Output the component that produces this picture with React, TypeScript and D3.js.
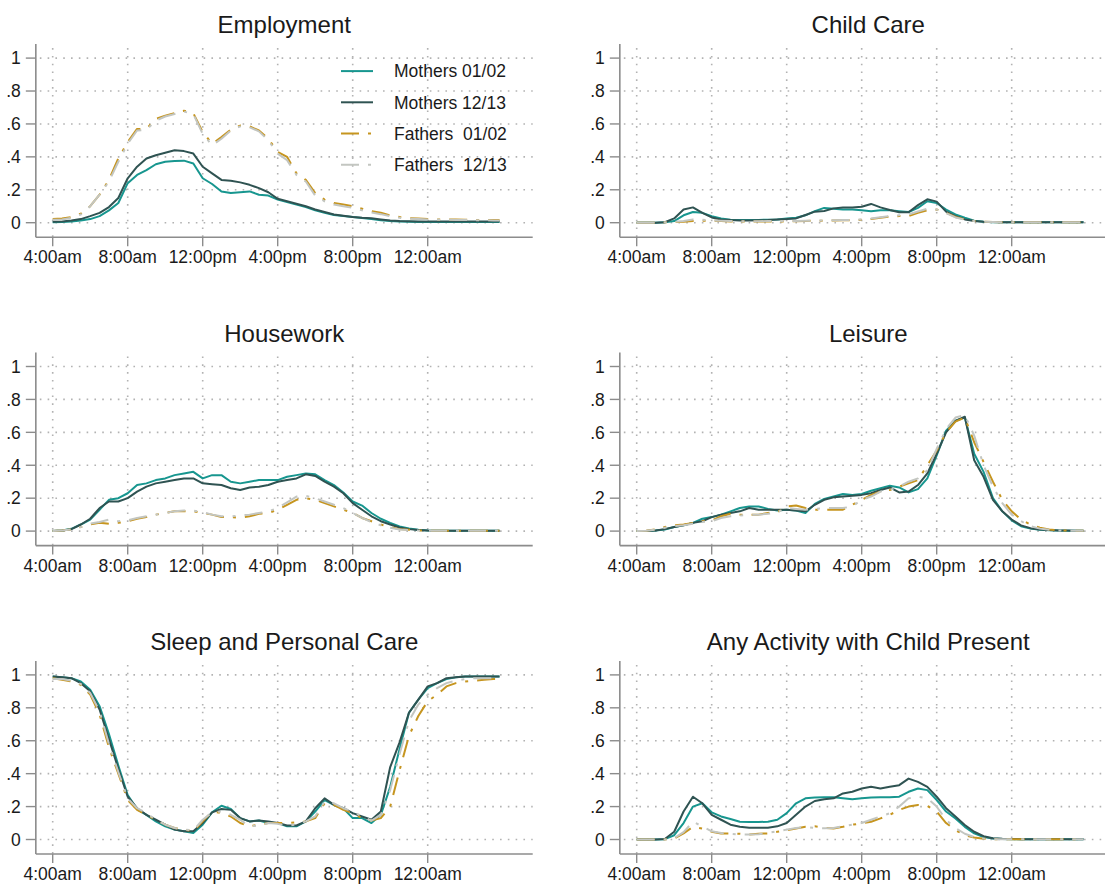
import * as d3 from 'd3';

// hours after 4:00am, half-hour slots (last slot = 3:50am)
const slots = [
  0, 0.5, 1, 1.5, 2, 2.5, 3, 3.5,
  4, 4.5, 5, 5.5, 6, 6.5, 7, 7.5,
  8, 8.5, 9, 9.5, 10, 10.5, 11, 11.5,
  12, 12.5, 13, 13.5, 14, 14.5, 15, 15.5,
  16, 16.5, 17, 17.5, 18, 18.5, 19, 19.5,
  20, 20.5, 21, 21.5, 22, 22.5, 23, 23.5, 23.83,
];
const tickHours = [0, 4, 8, 12, 16, 20];
const tickLabels = ['4:00am', '8:00am', '12:00pm', '4:00pm', '8:00pm', '12:00am'];
const yTicks = [0, 0.2, 0.4, 0.6, 0.8, 1];
const yTickLabels = ['0', '.2', '.4', '.6', '.8', '1'];
const seriesNames = ['Mothers 01/02', 'Mothers 12/13', 'Fathers  01/02', 'Fathers  12/13'];
const panelTitles = [
  'Employment', 'Child Care', 'Housework', 'Leisure',
  'Sleep and Personal Care', 'Any Activity with Child Present',
];

// Employment
const empM01 = [
  .003, .004, .008, .013, .022, .04, .075, .12,
  .24, .29, .32, .355, .37, .375, .377, .36,
  .27, .235, .19, .18, .185, .19, .17, .165,
  .14, .125, .11, .095, .075, .06, .047, .04,
  .034, .028, .022, .015, .01, .008, .006, .005,
  .004, .004, .004, .004, .004, .004, .004, .004, .004,
];
const empM12 = [
  .006, .008, .013, .022, .04, .06, .095, .15,
  .27, .34, .39, .41, .425, .44, .435, .42,
  .34, .30, .26, .255, .245, .23, .21, .185,
  .145, .13, .115, .10, .08, .065, .05, .042,
  .035, .03, .027, .02, .014, .01, .009, .008,
  .007, .007, .007, .007, .007, .007, .007, .007, .007,
];
const empF01 = [
  .022, .025, .034, .055, .10, .17, .26, .39,
  .49, .57, .57, .63, .65, .665, .68, .665,
  .55, .48, .52, .565, .59, .585, .56, .51,
  .43, .40, .30, .26, .18, .14, .12, .11,
  .10, .085, .07, .06, .045, .035, .028, .025,
  .022, .02, .02, .02, .018, .017, .017, .016, .016,
];
const empF12 = [
  .018, .02, .03, .05, .10, .17, .25, .37,
  .48, .56, .565, .62, .645, .66, .675, .66,
  .54, .47, .51, .56, .585, .58, .555, .50,
  .42, .38, .29, .25, .165, .13, .11, .10,
  .09, .075, .062, .052, .04, .03, .025, .022,
  .02, .018, .018, .017, .016, .015, .015, .014, .014,
];

// Child Care
const ccM01 = [
  0, 0, 0, .002, .01, .045, .065, .06,
  .04, .025, .018, .017, .017, .017, .018, .02,
  .025, .03, .045, .07, .09, .085, .08, .08,
  .075, .07, .075, .075, .07, .065, .09, .13,
  .12, .08, .05, .03, .012, .006, .003, .002,
  .002, .002, .002, .002, .002, .002, .002, .002, .002,
];
const ccM12 = [
  0, 0, 0, .003, .026, .08, .093, .06,
  .032, .02, .016, .014, .014, .015, .016, .02,
  .022, .026, .047, .067, .071, .087, .093, .093,
  .097, .114, .093, .077, .063, .063, .107, .142,
  .128, .067, .04, .02, .01, .006, .004, .003,
  .003, .003, .002, .002, .002, .002, .002, .002, .002,
];
const ccF01 = [
  0, 0, 0, .002, .004, .006, .01, .012,
  .012, .01, .008, .008, .008, .008, .008, .008,
  .008, .009, .01, .012, .012, .014, .015, .015,
  .018, .022, .03, .038, .04, .04, .06, .075,
  .08, .06, .035, .02, .01, .006, .004, .003,
  .002, .002, .002, .002, .002, .002, .002, .002, .002,
];
const ccF12 = [
  0, 0, 0, .002, .005, .01, .02, .018,
  .015, .012, .01, .009, .009, .009, .01, .01,
  .01, .01, .012, .013, .014, .015, .016, .017,
  .02, .025, .033, .04, .045, .05, .068, .085,
  .08, .058, .032, .018, .01, .006, .004, .003,
  .002, .002, .002, .002, .002, .002, .002, .002, .002,
];

// Housework
const hwM01 = [
  0, .004, .014, .04, .07, .13, .19, .20,
  .23, .28, .29, .31, .32, .34, .35, .36,
  .32, .34, .34, .30, .29, .30, .31, .31,
  .31, .33, .34, .35, .345, .31, .28, .235,
  .18, .155, .11, .075, .05, .028, .016, .008,
  .004, .002, .002, .002, .002, .002, .002, .002, .002,
];
const hwM12 = [
  0, .003, .012, .04, .075, .14, .18, .18,
  .20, .24, .27, .29, .30, .31, .32, .32,
  .29, .285, .28, .26, .25, .265, .27, .28,
  .30, .31, .32, .345, .335, .30, .27, .23,
  .17, .13, .09, .06, .04, .022, .012, .006,
  .003, .002, .002, .002, .002, .002, .002, .002, .002,
];
const hwF01 = [
  0, .004, .01, .025, .04, .05, .045, .05,
  .06, .075, .085, .10, .11, .12, .12, .12,
  .11, .10, .085, .085, .08, .09, .105, .11,
  .13, .16, .19, .20, .19, .17, .15, .13,
  .11, .08, .06, .04, .025, .012, .008, .004,
  .002, .002, .002, .002, .002, .002, .002, .002, .002,
];
const hwF12 = [
  0, .004, .01, .025, .045, .055, .07, .06,
  .065, .08, .09, .10, .11, .12, .125, .125,
  .115, .10, .09, .09, .095, .10, .11, .12,
  .14, .175, .21, .215, .20, .18, .16, .14,
  .11, .08, .055, .035, .02, .01, .006, .003,
  .002, .002, .002, .002, .002, .002, .002, .002, .002,
];

// Leisure
const lsM01 = [
  0, 0, .003, .01, .025, .035, .05, .075,
  .085, .10, .12, .14, .15, .15, .135, .125,
  .13, .125, .11, .165, .195, .21, .225, .22,
  .225, .245, .26, .275, .265, .235, .255, .32,
  .46, .61, .67, .69, .47, .36, .20, .12,
  .065, .03, .015, .008, .005, .003, .002, .002, .002,
];
const lsM12 = [
  0, 0, .003, .012, .025, .035, .05, .06,
  .085, .10, .11, .12, .14, .13, .13, .13,
  .13, .125, .12, .16, .19, .205, .21, .215,
  .22, .23, .25, .265, .235, .24, .28, .35,
  .47, .60, .67, .695, .43, .33, .19, .12,
  .07, .035, .018, .01, .006, .004, .003, .002, .002,
];
const lsF01 = [
  0, .002, .01, .025, .035, .04, .05, .06,
  .065, .09, .105, .10, .10, .10, .11, .115,
  .15, .155, .14, .13, .13, .13, .13, .16,
  .19, .22, .24, .25, .27, .29, .31, .40,
  .49, .60, .665, .69, .54, .42, .30, .19,
  .12, .07, .04, .02, .01, .005, .003, .002, .002,
];
const lsF12 = [
  0, .002, .008, .02, .03, .035, .045, .055,
  .06, .08, .09, .095, .10, .10, .105, .115,
  .14, .135, .13, .135, .14, .14, .14, .15,
  .19, .21, .24, .25, .27, .30, .32, .37,
  .50, .62, .69, .705, .58, .40, .27, .17,
  .10, .06, .03, .015, .008, .004, .003, .002, .002,
];

// Sleep and Personal Care
const spM01 = [
  .99, .985, .98, .96, .91, .81, .64, .45,
  .27, .185, .15, .11, .08, .06, .05, .04,
  .09, .165, .205, .185, .13, .11, .115, .10,
  .10, .08, .08, .11, .17, .24, .21, .19,
  .13, .13, .10, .15, .32, .55, .77, .85,
  .92, .95, .975, .985, .99, .99, .99, .99, .99,
];
const spM12 = [
  .99, .985, .98, .95, .90, .79, .61, .43,
  .26, .19, .15, .12, .09, .06, .05, .05,
  .10, .165, .185, .18, .13, .11, .115, .11,
  .10, .085, .085, .11, .19, .25, .21, .19,
  .16, .14, .12, .17, .44, .59, .77, .85,
  .93, .95, .98, .985, .99, .99, .99, .99, .99,
];
const spF01 = [
  .98, .97, .96, .94, .88, .76, .56, .40,
  .24, .18, .15, .12, .09, .07, .06, .05,
  .11, .17, .16, .14, .10, .08, .09, .10,
  .10, .10, .105, .11, .13, .22, .21, .18,
  .16, .13, .115, .13, .20, .42, .63, .75,
  .84, .88, .93, .95, .96, .965, .97, .975, .975,
];
const spF12 = [
  .975, .975, .965, .945, .89, .78, .58, .41,
  .25, .19, .16, .12, .09, .07, .06, .055,
  .12, .165, .17, .15, .12, .08, .085, .10,
  .095, .085, .09, .11, .14, .23, .22, .19,
  .17, .14, .115, .15, .30, .52, .72, .82,
  .88, .92, .95, .965, .975, .98, .98, .98, .98,
];

// Any Activity with Child Present
const acM01 = [
  0, 0, 0, .002, .026, .10, .20, .22,
  .165, .14, .125, .108, .106, .106, .108, .12,
  .16, .22, .25, .255, .257, .257, .25, .244,
  .25, .255, .257, .257, .26, .29, .31, .30,
  .24, .17, .128, .077, .037, .015, .006, .003,
  .002, .002, .002, .002, .002, .002, .002, .002, .002,
];
const acM12 = [
  0, 0, 0, .003, .047, .17, .26, .22,
  .15, .12, .09, .077, .072, .071, .072, .08,
  .10, .15, .20, .234, .245, .25, .28, .29,
  .31, .32, .31, .32, .33, .37, .35, .32,
  .26, .19, .14, .088, .047, .02, .008, .004,
  .003, .002, .002, .002, .002, .002, .002, .002, .002,
];
const acF01 = [
  0, 0, 0, 0, .005, .037, .077, .067,
  .047, .037, .037, .035, .03, .035, .037, .047,
  .057, .067, .077, .08, .071, .067, .077, .09,
  .098, .108, .128, .15, .18, .20, .21, .204,
  .17, .10, .057, .026, .012, .005, .002, .002,
  .002, .002, .002, .002, .002, .002, .002, .002, .002,
];
const acF12 = [
  0, 0, 0, 0, .008, .045, .108, .08,
  .05, .04, .035, .03, .03, .032, .04, .05,
  .06, .07, .075, .07, .068, .07, .08, .09,
  .10, .12, .14, .16, .20, .25, .26, .25,
  .20, .12, .07, .035, .015, .006, .002, .002,
  .002, .002, .002, .002, .002, .002, .002, .002, .002,
];

const panelData = [
  [empM01, empM12, empF01, empF12],
  [ccM01, ccM12, ccF01, ccF12],
  [hwM01, hwM12, hwF01, hwF12],
  [lsM01, lsM12, lsF01, lsF12],
  [spM01, spM12, spF01, spF12],
  [acM01, acM12, acF01, acF12],
];

const styles = [
  { color: '#17968f', dash: undefined as string | undefined },
  { color: '#2f5352', dash: undefined },
  { color: '#c6951f', dash: '18 9 3 9' },
  { color: '#c3c6c1', dash: '18 9 3 9' },
];

const font = '"Liberation Sans", Arial, Helvetica, sans-serif';
const textColor = '#1a1a1a';
const axisColor = '#8c8c8c';
const gridColor = '#b2b2b2';

function Panel({ index }: { index: number }) {
  const col = index % 2;
  const row = Math.floor(index / 2);
  const x0 = 52.7 + col * 584; // 4:00am
  const y0 = 222.7 + row * 308.4; // value 0
  const x = d3.scaleLinear().domain([0, 24]).range([x0, x0 + 450]);
  const y = d3.scaleLinear().domain([0, 1]).range([y0, y0 - 164.6]);
  const left = x(-0.9);
  const right = x(25.6);
  const bottom = y(-0.088);
  const top = y(1.085);
  const line = d3
    .line<number>()
    .x((_, i) => x(slots[i]))
    .y((d) => y(d));

  return (
    <g>
      <text
        x={(left + right) / 2}
        y={y(1) - 25}
        textAnchor="middle"
        fontSize={24}
        fill={textColor}
      >
        {panelTitles[index]}
      </text>
      {/* grid */}
      {yTicks.map((t) => (
        <line key={'h' + t} x1={left + 4} x2={right} y1={y(t)} y2={y(t)}
          stroke={gridColor} strokeWidth={1.6} strokeDasharray="1.6 6.2" />
      ))}
      {tickHours.map((t) => (
        <line key={'v' + t} x1={x(t)} x2={x(t)} y1={top + 4} y2={bottom}
          stroke={gridColor} strokeWidth={1.6} strokeDasharray="1.6 6.2" />
      ))}
      {/* axes */}
      <line x1={left} x2={left} y1={top} y2={bottom} stroke={axisColor} strokeWidth={1.6} />
      <line x1={left} x2={right} y1={bottom} y2={bottom} stroke={axisColor} strokeWidth={1.6} />
      {yTicks.map((t, i) => (
        <g key={'yt' + t}>
          <line x1={left - 10} x2={left} y1={y(t)} y2={y(t)} stroke={axisColor} strokeWidth={1.4} />
          <text x={left - 15} y={y(t)} dy="0.36em" textAnchor="end" fontSize={17.5} fill={textColor}>
            {yTickLabels[i]}
          </text>
        </g>
      ))}
      {tickHours.map((t, i) => (
        <g key={'xt' + t}>
          <line x1={x(t)} x2={x(t)} y1={bottom} y2={bottom + 9} stroke={axisColor} strokeWidth={1.4} />
          <text x={x(t)} y={bottom + 26} textAnchor="middle" fontSize={17.5} fill={textColor}>
            {tickLabels[i]}
          </text>
        </g>
      ))}
      {/* series */}
      {panelData[index].map((vals, s) => (
        <path key={'s' + s} d={line(vals) ?? ''} fill="none" stroke={styles[s].color}
          strokeWidth={2} strokeDasharray={styles[s].dash} strokeLinejoin="round" />
      ))}
      {index === 0 && (
        <g>
          {seriesNames.map((name, s) => {
            const ly = y(1) + 13 + s * 31.2;
            return (
              <g key={'lg' + s}>
                <line x1={341} x2={373} y1={ly} y2={ly} stroke={styles[s].color}
                  strokeWidth={2} strokeDasharray={styles[s].dash} />
                <text x={394} y={ly} dy="0.36em" fontSize={17.5} fill={textColor}
                  style={{ whiteSpace: 'pre' }}>
                  {name}
                </text>
              </g>
            );
          })}
        </g>
      )}
    </g>
  );
}

export default function App() {
  return (
    <svg
      width={1105}
      height={884}
      style={{ position: 'absolute', left: 0, top: 0, background: '#fff', fontFamily: font }}
    >
      <rect width={1105} height={884} fill="#fff" />
      {panelTitles.map((_, i) => (
        <Panel key={i} index={i} />
      ))}
    </svg>
  );
}
